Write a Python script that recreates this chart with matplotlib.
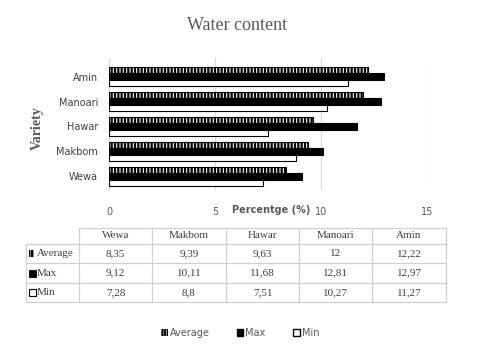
import matplotlib
matplotlib.use("Agg")
import matplotlib.pyplot as plt
from matplotlib.patches import Rectangle, Patch
import numpy as np

varieties = ["Wewa", "Makbom", "Hawar", "Manoari", "Amin"]
average = [8.35, 9.39, 9.63, 12.0, 12.22]
maximum = [9.12, 10.11, 11.68, 12.81, 12.97]
minimum = [7.28, 8.8, 7.51, 10.27, 11.27]
average_txt = ["8,35", "9,39", "9,63", "12", "12,22"]
max_txt = ["9,12", "10,11", "11,68", "12,81", "12,97"]
min_txt = ["7,28", "8,8", "7,51", "10,27", "11,27"]
series_names = ["Average", "Max", "Min"]
xticks = [0, 5, 10, 15]

plt.rcParams['hatch.linewidth'] = 1.6
plt.rcParams['hatch.color'] = 'black'
W, H = 480, 353
fig = plt.figure(figsize=(4.8, 3.53), dpi=100)

def fx(px): return px / W
def fy(py): return 1 - py / H

ax = fig.add_axes([fx(109), fy(190), fx(427) - fx(109), fy(58) - fy(190)])
y = np.arange(len(varieties))
bh = 0.26
ax.barh(y + bh, average, height=bh, color="white", edgecolor="black", hatch="|||||", linewidth=0.8)
ax.barh(y, maximum, height=bh, color="black", edgecolor="black", linewidth=0.8)
ax.barh(y - bh, minimum, height=bh, color="white", edgecolor="black", linewidth=0.8)
ax.set_xlim(0, 15)
ax.set_ylim(-0.55, 4.75)
ax.set_xticks(xticks)
ax.set_xticklabels([str(t) for t in xticks], fontsize=7, color="#595959")
ax.set_yticks(y)
ax.set_yticklabels(varieties, fontsize=7, color="#404040")
ax.tick_params(axis="both", length=0)
ax.tick_params(axis="x", pad=12)
ax.tick_params(axis="y", pad=8)
ax.grid(axis="x", color="#d9d9d9", linewidth=0.8)
ax.set_axisbelow(True)
for s in ax.spines.values():
    s.set_visible(False)

fig.text(fx(37), fy(128), "Variety", rotation=90, ha="center", va="center",
         fontsize=10, fontweight="bold", color="#595959", family="Liberation Serif")
fig.text(fx(271), fy(210), "Percentge (%)", ha="center", va="center",
         fontsize=7, fontweight="bold", color="#595959")
fig.text(fx(237), fy(26), "Water content", ha="center", va="center",
         fontsize=13, color="#595959", family="Liberation Serif")

# table
tax = fig.add_axes([0, 0, 1, 1])
tax.set_xlim(0, W)
tax.set_ylim(H, 0)
tax.axis("off")
cols = [26, 79, 152, 226, 299, 372, 446]
rows = [228, 244, 263, 283, 302]
lc = "#d0d0d0"
tax.plot([cols[1], cols[-1]], [rows[0], rows[0]], color=lc, lw=0.9)
for r in rows[1:]:
    tax.plot([cols[0], cols[-1]], [r, r], color=lc, lw=0.9)
tax.plot([cols[0], cols[0]], [rows[1], rows[-1]], color=lc, lw=0.9)
for c in cols[1:]:
    tax.plot([c, c], [rows[0], rows[-1]], color=lc, lw=0.9)

tfont = dict(family="Liberation Serif", fontsize=8, color="#404040", ha="center", va="center")
for i, v in enumerate(varieties):
    tax.text((cols[i + 1] + cols[i + 2]) / 2, (rows[0] + rows[1]) / 2, v, **tfont)
for r, vals in enumerate([average_txt, max_txt, min_txt]):
    yc = (rows[r + 1] + rows[r + 2]) / 2
    for i, v in enumerate(vals):
        tax.text((cols[i + 1] + cols[i + 2]) / 2, yc, v, **tfont)

sym_y = [(rows[i + 1] + rows[i + 2]) / 2 for i in range(3)]
tax.add_patch(Rectangle((29, sym_y[0] - 3.5), 5, 7, facecolor="white", edgecolor="black", hatch="||||||", linewidth=0))
tax.add_patch(Rectangle((29, sym_y[1] - 3.5), 7, 7, facecolor="black", edgecolor="black", linewidth=0.6))
tax.add_patch(Rectangle((29, sym_y[2] - 3.5), 7, 7, facecolor="white", edgecolor="black", linewidth=0.8))
for i, name in enumerate(series_names):
    tax.text(37, sym_y[i], name, family="Liberation Serif", fontsize=8, color="#404040", ha="left", va="center")

handles = [Patch(facecolor="white", edgecolor="black", hatch="||||||", linewidth=0),
           Patch(facecolor="black", edgecolor="black"),
           Patch(facecolor="white", edgecolor="black")]
leg = fig.legend(handles, series_names, loc="center", bbox_to_anchor=(fx(240), fy(333)), ncol=3,
                 frameon=False, fontsize=7, handlelength=0.7, handleheight=0.7,
                 handletextpad=0.2, columnspacing=2.8)
for t in leg.get_texts():
    t.set_color("#595959")

fig.savefig("out.png", dpi=100)
